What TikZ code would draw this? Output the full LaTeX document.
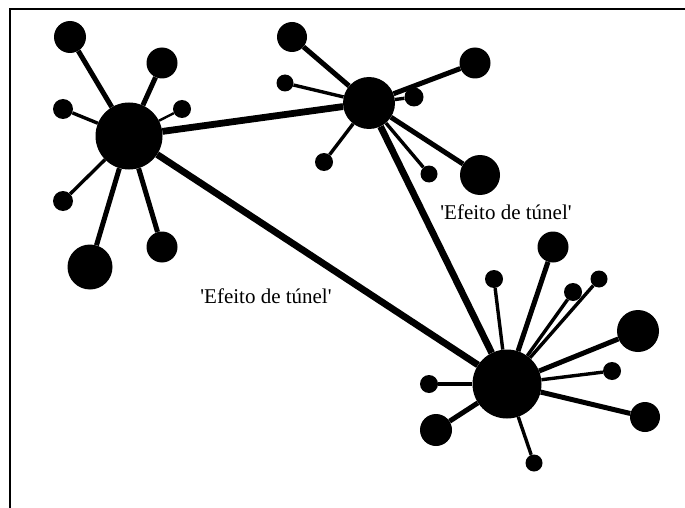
\documentclass[tikz,border=0pt]{standalone}
\usepackage{fontspec}
\setmainfont{Liberation Serif}
\begin{document}
\begin{tikzpicture}[x=1pt,y=-1pt,
  ball/.style={circle,fill=black,draw=none,inner sep=0pt,minimum size=#1},
  hubline/.style={line width=6.8pt},
  bigline/.style={line width=5pt},
  thinline/.style={line width=3.4pt},
  hairline/.style={line width=2.4pt},
  lbl/.style={font=\fontsize{21}{25}\selectfont, inner sep=0pt}]
\useasboundingbox (0,0) rectangle (685,508);
\draw[line width=2pt] (10,508) coordinate (fb) -- (10,9) coordinate (fc) -- (685,9) coordinate (fe);

% hubs
\node[ball=67] (A) at (129,136) {};
\node[ball=52] (B) at (369,103) {};
\node[ball=69] (C) at (507,384) {};

% satellites of A
\node[ball=32] (a1) at (70,37) {};
\node[ball=31] (a2) at (162,63) {};
\node[ball=20] (a3) at (63,109) {};
\node[ball=18] (a4) at (182,109) {};
\node[ball=20] (a5) at (63,201) {};
\node[ball=45] (a6) at (90,267) {};
\node[ball=31] (a7) at (162,247) {};

% satellites of B
\node[ball=30] (b1) at (292,37) {};
\node[ball=17] (b2) at (285,83) {};
\node[ball=31] (b3) at (475,63) {};
\node[ball=19] (b4) at (414,97) {};
\node[ball=18] (b5) at (324,162) {};
\node[ball=17] (b6) at (429,174) {};
\node[ball=40] (b7) at (480,175) {};

% satellites of C
\node[ball=31] (c1) at (553,247) {};
\node[ball=18] (c2) at (494,279) {};
\node[ball=18] (c3) at (573,292) {};
\node[ball=17] (c4) at (599,279) {};
\node[ball=42] (c5) at (638,331) {};
\node[ball=18] (c6) at (612,371) {};
\node[ball=30] (c7) at (645,417) {};
\node[ball=18] (c8) at (429,384) {};
\node[ball=32] (c9) at (436,430) {};
\node[ball=17] (c10) at (534,463) {};

% hub links
\draw[hubline] (A) -- (B);
\draw[hubline] (A) -- (C);
\draw[hubline] (B) -- (C);

% A links
\draw[bigline] (A) -- (a1);
\draw[bigline] (A) -- (a2);
\draw[thinline] (A) -- (a3);
\draw[hairline] (A) -- (a4);
\draw[thinline] (A) -- (a5);
\draw[bigline] (A) -- (a6);
\draw[bigline] (A) -- (a7);

% B links
\draw[bigline] (B) -- (b1);
\draw[thinline] (B) -- (b2);
\draw[bigline] (B) -- (b3);
\draw[thinline] (B) -- (b4);
\draw[thinline] (B) -- (b5);
\draw[thinline] (B) -- (b6);
\draw[bigline] (B) -- (b7);

% C links
\draw[bigline] (C) -- (c1);
\draw[thinline] (C) -- (c2);
\draw[thinline] (C) -- (c3);
\draw[thinline] (C) -- (c4);
\draw[bigline] (C) -- (c5);
\draw[thinline] (C) -- (c6);
\draw[bigline] (C) -- (c7);
\draw[thinline] (C) -- (c8);
\draw[bigline] (C) -- (c9);
\draw[thinline] (C) -- (c10);

% labels
\node[lbl] (l1) at (266,296) {\textquotesingle Efeito de túnel\textquotesingle};
\node[lbl] (l2) at (506,212) {\textquotesingle Efeito de túnel\textquotesingle};
\end{tikzpicture}
\end{document}
